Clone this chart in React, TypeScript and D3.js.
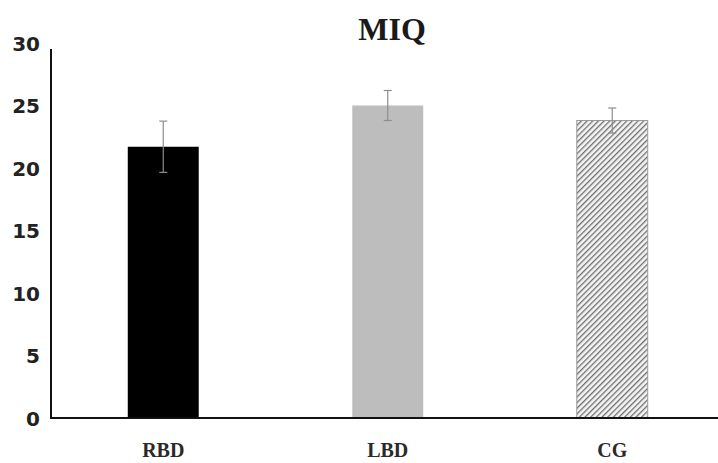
import * as d3 from 'd3';

const groups = ['RBD', 'LBD', 'CG'];
const means = [21.7, 25.0, 23.8];
const errors = [2.05, 1.2, 1.0];
const yTicks = [0, 5, 10, 15, 20, 25, 30];

const W = 718;
const H = 463;

const App = () => {
  const left = 51;
  const baseline = 418;

  const x = d3
    .scaleBand<string>()
    .domain(groups)
    .range([left, left + 3 * 224.5])
    .paddingInner(0.684)
    .paddingOuter(0.342);

  const y = d3.scaleLinear().domain([0, 30]).range([baseline, 43]);

  const fills = ['#000000', '#bdbdbd', 'url(#hatch)'];

  return (
    <svg width={W} height={H} style={{ display: 'block', position: 'absolute', left: 0, top: 0 }}>
      <defs>
        <pattern id="hatch" width={4} height={4} patternUnits="userSpaceOnUse" patternTransform="rotate(45)">
          <rect width={4} height={4} fill="#f4f4f4" />
          <line x1={0} y1={0} x2={0} y2={4} stroke="#6e6e6e" strokeWidth={2.6} />
        </pattern>
      </defs>
      <rect width={W} height={H} fill="#ffffff" />

      {/* title */}
      <text
        x={392}
        y={40}
        textAnchor="middle"
        fontFamily="Liberation Serif, serif"
        fontWeight="bold"
        fontSize={32}
        fill="#1a1a1a"
      >
        MIQ
      </text>

      {/* bars */}
      {groups.map((g, i) => (
        <rect
          key={g}
          x={x(g)}
          y={y(means[i])}
          width={x.bandwidth()}
          height={baseline - y(means[i])}
          fill={fills[i]}
          stroke={i === 2 ? '#9a9a9a' : 'none'}
          strokeWidth={1}
        />
      ))}

      {/* error bars */}
      {groups.map((g, i) => {
        const cx = (x(g) as number) + x.bandwidth() / 2;
        const top = y(means[i] + errors[i]);
        const bot = y(means[i] - errors[i]);
        return (
          <g key={g} stroke="#8c8c8c" strokeWidth={1.2}>
            <line x1={cx} x2={cx} y1={top} y2={bot} />
            <line x1={cx - 4} x2={cx + 4} y1={top} y2={top} />
            <line x1={cx - 4} x2={cx + 4} y1={bot} y2={bot} />
          </g>
        );
      })}

      {/* axes */}
      <line x1={left} x2={left} y1={49} y2={baseline + 1} stroke="#111" strokeWidth={2} />
      <line x1={left} x2={W} y1={baseline} y2={baseline} stroke="#111" strokeWidth={2} />

      {yTicks.map((t) => (
        <text
          key={t}
          x={40}
          y={y(t) + 2}
          textAnchor="end"
          dominantBaseline="middle"
          fontFamily="DejaVu Sans, sans-serif"
          fontWeight="bold"
          fontSize={20}
          fill="#222"
        >
          {t}
        </text>
      ))}

      {groups.map((g) => (
        <text
          key={g}
          x={(x(g) as number) + x.bandwidth() / 2}
          y={457}
          textAnchor="middle"
          fontFamily="Liberation Serif, serif"
          fontWeight="bold"
          fontSize={20}
          fill="#2a2a2a"
        >
          {g}
        </text>
      ))}
    </svg>
  );
};

export default App;
